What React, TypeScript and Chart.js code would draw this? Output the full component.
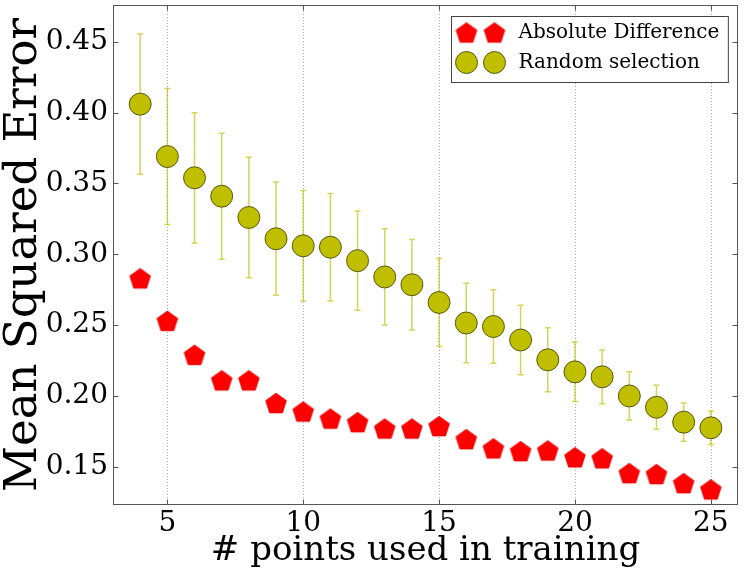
import React, { useEffect, useRef } from "react";
import { Chart, registerables } from "chart.js";

Chart.register(...registerables);

// ---- data ----
const trainingPoints = [4, 5, 6, 7, 8, 9, 10, 11, 12, 13, 14, 15, 16, 17, 18, 19, 20, 21, 22, 23, 24, 25];
const absoluteDifference = [
  0.283, 0.253, 0.229, 0.211, 0.211, 0.195, 0.189, 0.184, 0.1815, 0.177, 0.177,
  0.1787, 0.1695, 0.163, 0.161, 0.1615, 0.1567, 0.156, 0.1455, 0.1448, 0.1384, 0.134,
];
const randomSelection = [
  0.406, 0.369, 0.354, 0.341, 0.326, 0.311, 0.306, 0.305, 0.2955, 0.284, 0.2785,
  0.266, 0.2515, 0.249, 0.2395, 0.2255, 0.217, 0.2135, 0.2, 0.192, 0.1815, 0.1775,
];
const randomSelectionErr = [
  0.0495, 0.048, 0.046, 0.0445, 0.0425, 0.04, 0.039, 0.038, 0.035, 0.034, 0.032,
  0.031, 0.028, 0.026, 0.0245, 0.0226, 0.021, 0.019, 0.017, 0.0155, 0.0135, 0.0117,
];
const xTickValues = [5, 10, 15, 20, 25];
const yTickValues = [0.15, 0.2, 0.25, 0.3, 0.35, 0.4, 0.45];
const seriesLabels = ["Absolute Difference", "Random selection"];
const xTitle = "# points used in training";
const yTitle = "Mean Squared Error";

const FONT = "'DejaVu Serif', 'Liberation Serif', serif";
const RED = "#ff0000";
const OLIVE = "#bfbf00";
const OLIVE_EDGE = "#3a3a00";
const MARKER_R = 11;

function makePentagon(r: number, fill: string): HTMLCanvasElement {
  const size = Math.ceil(2 * r + 2);
  const c = document.createElement("canvas");
  c.width = size;
  c.height = size;
  const ctx = c.getContext("2d")!;
  ctx.beginPath();
  for (let i = 0; i < 5; i++) {
    const a = -Math.PI / 2 + (i * 2 * Math.PI) / 5;
    const x = size / 2 + r * Math.cos(a);
    const y = size / 2 + 1 + r * Math.sin(a);
    if (i === 0) ctx.moveTo(x, y);
    else ctx.lineTo(x, y);
  }
  ctx.closePath();
  ctx.fillStyle = fill;
  ctx.fill();
  ctx.strokeStyle = "#d00000";
  ctx.lineWidth = 0.6;
  ctx.stroke();
  return c;
}

export default function App() {
  const canvasRef = useRef<HTMLCanvasElement | null>(null);

  useEffect(() => {
    const canvas = canvasRef.current;
    if (!canvas) return;
    const pentagon = makePentagon(MARKER_R, RED);

    const framePlugin = {
      id: "mplFrame",
      beforeDatasetsDraw(chart: any) {
        const { ctx, chartArea: a, scales } = chart;
        const x = scales.x;
        const y = scales.y;
        ctx.save();
        // vertical dotted grid
        ctx.strokeStyle = "#8c8c8c";
        ctx.lineWidth = 0.8;
        ctx.setLineDash([1, 2]);
        x.ticks.forEach((t: any) => {
          const px = Math.round(x.getPixelForValue(t.value)) + 0.5;
          ctx.beginPath();
          ctx.moveTo(px, a.top);
          ctx.lineTo(px, a.bottom);
          ctx.stroke();
        });
        ctx.setLineDash([]);
        // error bars
        ctx.strokeStyle = "rgba(191,191,0,0.65)";
        ctx.lineWidth = 1.5;
        trainingPoints.forEach((xv, i) => {
          const px = x.getPixelForValue(xv);
          const top = y.getPixelForValue(randomSelection[i] + randomSelectionErr[i]);
          const bot = y.getPixelForValue(randomSelection[i] - randomSelectionErr[i]);
          ctx.beginPath();
          ctx.moveTo(px, top);
          ctx.lineTo(px, bot);
          ctx.moveTo(px - 3, top);
          ctx.lineTo(px + 3, top);
          ctx.moveTo(px - 3, bot);
          ctx.lineTo(px + 3, bot);
          ctx.stroke();
        });
        ctx.restore();
      },
      afterDatasetsDraw(chart: any) {
        const { ctx, chartArea: a, scales } = chart;
        const x = scales.x;
        const y = scales.y;
        ctx.save();
        ctx.strokeStyle = "#555555";
        ctx.lineWidth = 1;
        const L = Math.round(a.left) + 0.5;
        const R = Math.round(a.right) - 0.5;
        const T = Math.round(a.top) + 0.5;
        const B = Math.round(a.bottom) - 0.5;
        ctx.strokeRect(L, T, R - L, B - T);
        const tl = 5;
        ctx.beginPath();
        x.ticks.forEach((t: any) => {
          const px = Math.round(x.getPixelForValue(t.value)) + 0.5;
          ctx.moveTo(px, B);
          ctx.lineTo(px, B - tl);
          ctx.moveTo(px, T);
          ctx.lineTo(px, T + tl);
        });
        y.ticks.forEach((t: any) => {
          const py = Math.round(y.getPixelForValue(t.value)) + 0.5;
          ctx.moveTo(L, py);
          ctx.lineTo(L + tl, py);
          ctx.moveTo(R, py);
          ctx.lineTo(R - tl, py);
        });
        ctx.stroke();
        ctx.restore();
      },
      afterDraw(chart: any) {
        const { ctx, chartArea: a } = chart;
        ctx.save();
        ctx.font = `20px ${FONT}`;
        const maxW = Math.max(...seriesLabels.map((s) => ctx.measureText(s).width));
        const boxW = 67 + maxW + 9;
        const boxH = 66;
        const bx = Math.round(a.right - 10 - boxW) + 0.5;
        const by = Math.round(a.top + 11) + 0.5;
        ctx.fillStyle = "#ffffff";
        ctx.fillRect(bx, by, boxW, boxH);
        ctx.strokeStyle = "#444444";
        ctx.lineWidth = 1;
        ctx.strokeRect(bx, by, boxW, boxH);
        const rows = [by + 16, by + 46];
        rows.forEach((ry, i) => {
          [bx + 15, bx + 43].forEach((mx) => {
            if (i === 0) {
              ctx.drawImage(pentagon, mx - pentagon.width / 2, ry - pentagon.height / 2);
            } else {
              ctx.beginPath();
              ctx.arc(mx, ry, MARKER_R, 0, Math.PI * 2);
              ctx.fillStyle = OLIVE;
              ctx.fill();
              ctx.strokeStyle = OLIVE_EDGE;
              ctx.lineWidth = 0.8;
              ctx.stroke();
            }
          });
          ctx.fillStyle = "#000000";
          ctx.textBaseline = "middle";
          ctx.textAlign = "left";
          ctx.fillText(seriesLabels[i], bx + 67, ry);
        });
        ctx.restore();
      },
    };

    const chart = new Chart(canvas, {
      type: "scatter",
      data: {
        datasets: [
          {
            label: seriesLabels[0],
            data: trainingPoints.map((xv, i) => ({ x: xv, y: absoluteDifference[i] })),
            pointStyle: pentagon as any,
            pointRadius: MARKER_R,
            backgroundColor: RED,
            borderColor: RED,
            showLine: false,
          },
          {
            label: seriesLabels[1],
            data: trainingPoints.map((xv, i) => ({ x: xv, y: randomSelection[i] })),
            pointStyle: "circle",
            pointRadius: MARKER_R,
            backgroundColor: OLIVE,
            borderColor: OLIVE_EDGE,
            borderWidth: 0.8,
            showLine: false,
          },
        ],
      },
      options: {
        responsive: false,
        animation: false,
        devicePixelRatio: 1,
        layout: { autoPadding: false, padding: { top: 5, right: 6, left: 0, bottom: 0 } },
        plugins: { legend: { display: false }, tooltip: { enabled: false } },
        scales: {
          x: {
            type: "linear",
            min: 3,
            max: 26,
            afterBuildTicks: (s: any) => {
              s.ticks = xTickValues.map((v) => ({ value: v }));
            },
            afterFit: (s: any) => {
              s.height = 72;
              s.paddingLeft = 0;
              s.paddingRight = 0;
            },
            grid: { display: false, drawTicks: false },
            border: { display: false },
            ticks: {
              color: "#000",
              padding: 2,
              font: { family: FONT, size: 28 },
              callback: (v: any) => String(v),
            },
            title: {
              display: true,
              text: xTitle,
              color: "#000",
              font: { family: FONT, size: 34 },
              padding: { top: 0, bottom: 5 },
            },
          },
          y: {
            type: "linear",
            min: 0.123,
            max: 0.476,
            afterBuildTicks: (s: any) => {
              s.ticks = yTickValues.map((v) => ({ value: v }));
            },
            afterFit: (s: any) => {
              s.width = 113;
              s.paddingTop = 0;
              s.paddingBottom = 0;
            },
            grid: { display: false, drawTicks: false },
            border: { display: false },
            ticks: {
              color: "#000",
              padding: 5,
              font: { family: FONT, size: 28 },
              callback: (v: any) => Number(v).toFixed(2),
            },
            title: {
              display: true,
              text: yTitle,
              color: "#000",
              font: { family: FONT, size: 45 },
              padding: { top: -3, bottom: 0 },
            },
          },
        },
      },
      plugins: [framePlugin],
    } as any);

    return () => chart.destroy();
  }, []);

  return (
    <div style={{ position: "fixed", left: 0, top: 0, width: 744, height: 577, background: "#fff" }}>
      <canvas ref={canvasRef} width={744} height={577} style={{ display: "block" }} />
    </div>
  );
}
